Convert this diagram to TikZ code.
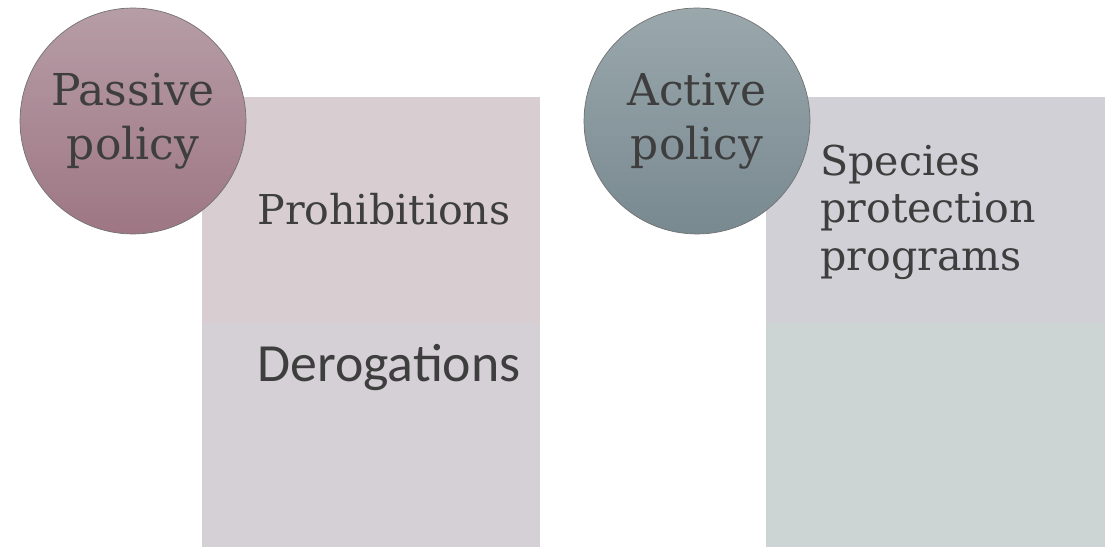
\documentclass[tikz,border=0pt]{standalone}
\usepackage{fontspec}
\setmainfont{DejaVu Serif}
\newfontfamily\derofont{Carlito}
\usetikzlibrary{positioning}
\definecolor{ink}{RGB}{62, 62, 62}
\definecolor{passtop}{RGB}{182, 157, 166}
\definecolor{passbot}{RGB}{158, 118, 132}
\definecolor{acttop}{RGB}{154, 168, 172}
\definecolor{actbot}{RGB}{120, 137, 144}
\definecolor{prohfill}{RGB}{216, 206, 210}
\definecolor{derofill}{RGB}{213, 208, 214}
\definecolor{specfill}{RGB}{208, 208, 214}
\definecolor{emptyfill}{RGB}{205, 212, 212}

\tikzset{
  policy/.style={circle, minimum size=4.52cm, inner sep=0pt, draw=black!55, line width=0.4pt, align=center, text=ink, font=\fontsize{25}{30.5}\selectfont},
  label/.style={anchor=base west, text=ink, inner sep=0pt, align=left, font=\fontsize{23.4}{27}\selectfont}
}

\begin{document}
\begin{tikzpicture}[x=0.02cm, y=-0.02cm]
  \useasboundingbox[fill=white] (0, 0) rectangle (1115, 547);

  % passive side
  \fill[prohfill] (202, 97) rectangle (540, 323);
  \fill[derofill] (202, 323) rectangle (540, 547);
  \node[policy, top color=passtop, bottom color=passbot] (passive) at (133, 121) {Passive\\policy};
  \node[label] (prohib) at (257, 225) {Prohibitions};
  \node[label, font=\derofont\fontsize{30.6}{36}\selectfont] (derog) at (257, 381) {Derogations};

  % active side
  \fill[specfill] (766, 97) rectangle (1105, 323);
  \fill[emptyfill] (766, 323) rectangle (1105, 547);
  \node[policy, top color=acttop, bottom color=actbot] (active) at (697, 121) {Active\\policy};
  \node[label] (species) at (820, 270) {Species\\protection\\programs};

\end{tikzpicture}
\end{document}
